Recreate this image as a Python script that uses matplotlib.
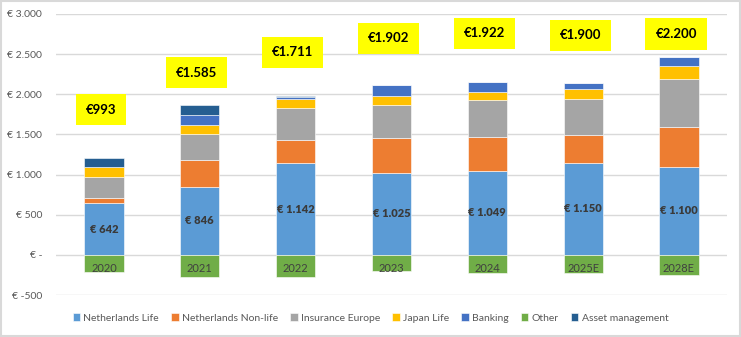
import matplotlib.pyplot as plt
from matplotlib.patches import Rectangle
import numpy as np

# data (EUR millions)
years = ['2020', '2021', '2022', '2023', '2024', '2025E', '2028E']
nl_life = [642, 846, 1142, 1025, 1049, 1150, 1100]
nl_nonlife = [70, 331, 283, 425, 418, 338, 487]
ins_europe = [255, 323, 399, 420, 460, 448, 598]
japan_life = [130, 121, 112, 112, 105, 124, 162]
banking = [0, 116, 30, 132, 124, 84, 112]
other = [-214, -271, -276, -202, -222, -230, -247]
asset_mgmt = [108, 128, 15, 0, 0, 0, 0]
totals = ['€993', '€1.585', '€1.711', '€1.902', '€1.922', '€1.900', '€2.200']
total_y = [1810, 2270, 2520, 2695, 2757, 2732, 2750]

y_ticks = [-500, 0, 500, 1000, 1500, 2000, 2500, 3000]
y_tick_labels = ['€ -500', '€ -', '€ 500', '€ 1.000', '€ 1.500',
                 '€ 2.000', '€ 2.500', '€ 3.000']

plt.rcParams['font.family'] = ['Lato', 'DejaVu Sans']

fig = plt.figure(figsize=(7.41, 3.37), dpi=100)
ax = fig.add_axes([0.0756, 0.1246, 0.9054, 0.834])

x = np.arange(len(years))
w = 0.41
edge = dict(edgecolor='white', linewidth=0.4)

# positive stack, bottom to top
stack = [
    ('Netherlands Life', nl_life, '#5B9BD5'),
    ('Netherlands Non-life', nl_nonlife, '#ED7D31'),
    ('Insurance Europe', ins_europe, '#A5A5A5'),
    ('Japan Life', japan_life, '#FFC000'),
    ('Banking', banking, '#4472C4'),
]
bottom = np.zeros(len(years))
handles = {}
for name, vals, col in stack:
    handles[name] = ax.bar(x, vals, w, bottom=bottom, color=col,
                           zorder=2, **edge)
    bottom += np.array(vals)
handles['Other'] = ax.bar(x, other, w, color='#70AD47', zorder=2, **edge)
handles['Asset management'] = ax.bar(x, asset_mgmt, w, bottom=bottom,
                                     color='#255E91', zorder=2, **edge)

# labels inside the Netherlands Life segment
for i, v in enumerate(nl_life):
    ax.text(x[i], v / 2, f'€ {v:,}'.replace(',', '.'), ha='center',
            va='center', fontsize=8, fontweight='heavy', color='#3A3A3A',
            zorder=3)

# category labels sit on the green bars just below zero
for i, yr in enumerate(years):
    ax.text(x[i], -165, yr, ha='center', va='center', fontsize=8,
            color='#404040', zorder=3)

# yellow total boxes
for i, t in enumerate(totals):
    ax.text(x[i] - 0.03, total_y[i], t, ha='center', va='center',
            fontsize=9.5, fontweight='bold', color='black', zorder=4,
            bbox=dict(boxstyle='square,pad=0.75', facecolor='#FFFF00',
                      edgecolor='none'))

ax.set_xlim(-0.5, 6.5)
ax.set_ylim(-500, 3000)
ax.set_yticks(y_ticks)
ax.set_yticklabels(y_tick_labels, fontsize=7.5, color='#595959')
ax.set_xticks([])
ax.tick_params(axis='y', length=0, pad=10)
ax.grid(axis='y', color='#D9D9D9', linewidth=1, zorder=0)
for s in ax.spines.values():
    s.set_visible(False)

order = ['Netherlands Life', 'Netherlands Non-life', 'Insurance Europe',
         'Japan Life', 'Banking', 'Other', 'Asset management']
fig.legend([handles[k] for k in order], order, loc='center',
           bbox_to_anchor=(0.5, 0.056), ncol=7, frameon=False,
           fontsize=7.5, labelcolor='#595959', handlelength=0.7,
           handleheight=0.7, handletextpad=0.3, columnspacing=1.2)

fig.patches.append(Rectangle((0.001, 0.002), 0.997, 0.995,
                             transform=fig.transFigure, fill=False,
                             edgecolor='#D9D9D9', linewidth=1.5))

fig.savefig('out.png', dpi=100)
